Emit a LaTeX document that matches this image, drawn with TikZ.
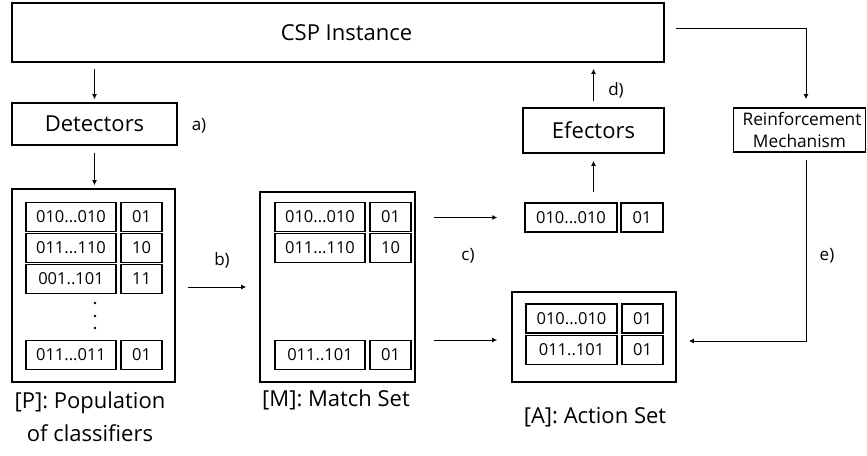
\documentclass[tikz,border=0pt]{standalone}
\usepackage{fontspec}
\setmainfont{Open Sans}
\usetikzlibrary{arrows.meta}
\begin{document}
\begin{tikzpicture}[x=1pt,y=-1pt,
  box/.style={draw,line width=1.7pt,inner sep=0pt,font=\fontsize{22}{26}\selectfont},
  cell/.style={draw,line width=1.4pt,inner sep=0pt,minimum height=29pt,font=\fontsize{16.5}{18}\selectfont},
  lcell/.style={cell,minimum width=90pt},
  rcell/.style={cell,minimum width=41pt},
  lab/.style={font=\fontsize{17}{20}\selectfont},
  captxt/.style={font=\fontsize{22}{33}\selectfont,align=center},
  arr/.style={line width=1pt,-{Latex[length=5pt,width=5pt]}}]
\useasboundingbox (0,0) rectangle (867,455);
% main boxes
\node[box,minimum width=652pt,minimum height=59pt] (csp) at (338,32.5) {\hspace*{17pt}CSP Instance};
\node[box,minimum width=165pt,minimum height=42pt] (det) at (94.5,124) {Detectors};
\node[box,minimum width=163pt,minimum height=193pt] (pbox) at (93.5,285.5) {};
\node[box,minimum width=155pt,minimum height=190pt] (mbox) at (337.5,287) {};
\node[box,minimum width=141pt,minimum height=45pt] (eff) at (593.5,130.5) {Efectors};
\node[box,minimum width=132pt,minimum height=44pt,align=center,font=\fontsize{17.3}{21.5}\selectfont] (rein) at (799.5,130) {\hspace*{5pt}Reinforcement\\Mechanism};
\node[box,minimum width=164pt,minimum height=90pt] (abox) at (594,337) {};
% P cells
\node[lcell] (p1l) at (71,217) {010...010};
\node[rcell] (p1r) at (141.5,217) {01};
\node[lcell] (p2l) at (71,248) {011...110};
\node[rcell] (p2r) at (141.5,248) {10};
\node[lcell] (p3l) at (71,279) {001..101};
\node[rcell] (p3r) at (141.5,279) {11};
\node[lcell] (p4l) at (71,355) {011...011};
\node[rcell] (p4r) at (141.5,355) {01};
\node[circle,fill,inner sep=0pt,minimum size=2.8pt] (d1) at (95,303) {};
\node[circle,fill,inner sep=0pt,minimum size=2.8pt] (d2) at (95,316) {};
\node[circle,fill,inner sep=0pt,minimum size=2.8pt] (d3) at (95,328) {};
% M cells
\node[lcell] (m1l) at (320,217) {010...010};
\node[rcell] (m1r) at (390.5,217) {01};
\node[lcell] (m2l) at (320,248) {011...110};
\node[rcell] (m2r) at (390.5,248) {10};
\node[lcell] (m3l) at (320,355) {011..101};
\node[rcell] (m3r) at (390.5,355) {01};
% output cells
\node[lcell,minimum width=92pt] (ol) at (571,217.5) {010...010};
\node[rcell,minimum width=42pt] (or) at (642,217.5) {01};
% A cells
\node[lcell,minimum width=91pt] (a1l) at (571.5,318.5) {010...010};
\node[rcell] (a1r) at (642.5,318.5) {01};
\node[lcell,minimum width=91pt] (a2l) at (571.5,350) {011..101};
\node[rcell] (a2r) at (642.5,350) {01};
% labels
\node[lab] (la) at (199,126) {a)};
\node[lab] (lb) at (222,260) {b)};
\node[lab] (lc) at (468,256) {c)};
\node[lab] (ld) at (616,90) {d)};
\node[lab] (le) at (827,256) {e)};
\node[captxt] (cp) at (90,416.5) {[P]: Population\\of classifiers};
\node[captxt] (cm) at (336,400) {[M]: Match Set};
\node[captxt] (ca) at (595,417) {[A]: Action Set};
% connectors
\draw[arr,shorten <=6pt,shorten >=3pt] (det.north |- csp.south) -- (det.north);
\draw[arr,shorten <=7pt,shorten >=3pt] (det.south) -- (det.south |- pbox.north);
\draw[arr,shorten <=12pt,shorten >=13pt] (pbox.east |- mbox.west) -- (mbox.west);
\draw[arr,shorten <=18pt,shorten >=27pt] (mbox.east |- ol.west) -- (ol.west);
\draw[arr,shorten <=18pt,shorten >=14pt] ([yshift=-3pt]mbox.east |- abox.west) -- ([yshift=-3pt]abox.west);
\draw[arr,shorten <=10pt,shorten >=7pt] (eff.south |- ol.north) -- (eff.south);
\draw[arr,shorten <=6pt,shorten >=6pt] (eff.north) -- (eff.north |- csp.south);
\draw[arr,shorten <=11pt,shorten >=8pt] ([yshift=4.5pt]csp.east) -| ([xshift=6.5pt]rein.north);
\draw[arr,shorten <=7pt,shorten >=12pt] ([xshift=6.5pt]rein.south) |- ([yshift=-4pt]abox.east);
\end{tikzpicture}
\end{document}
